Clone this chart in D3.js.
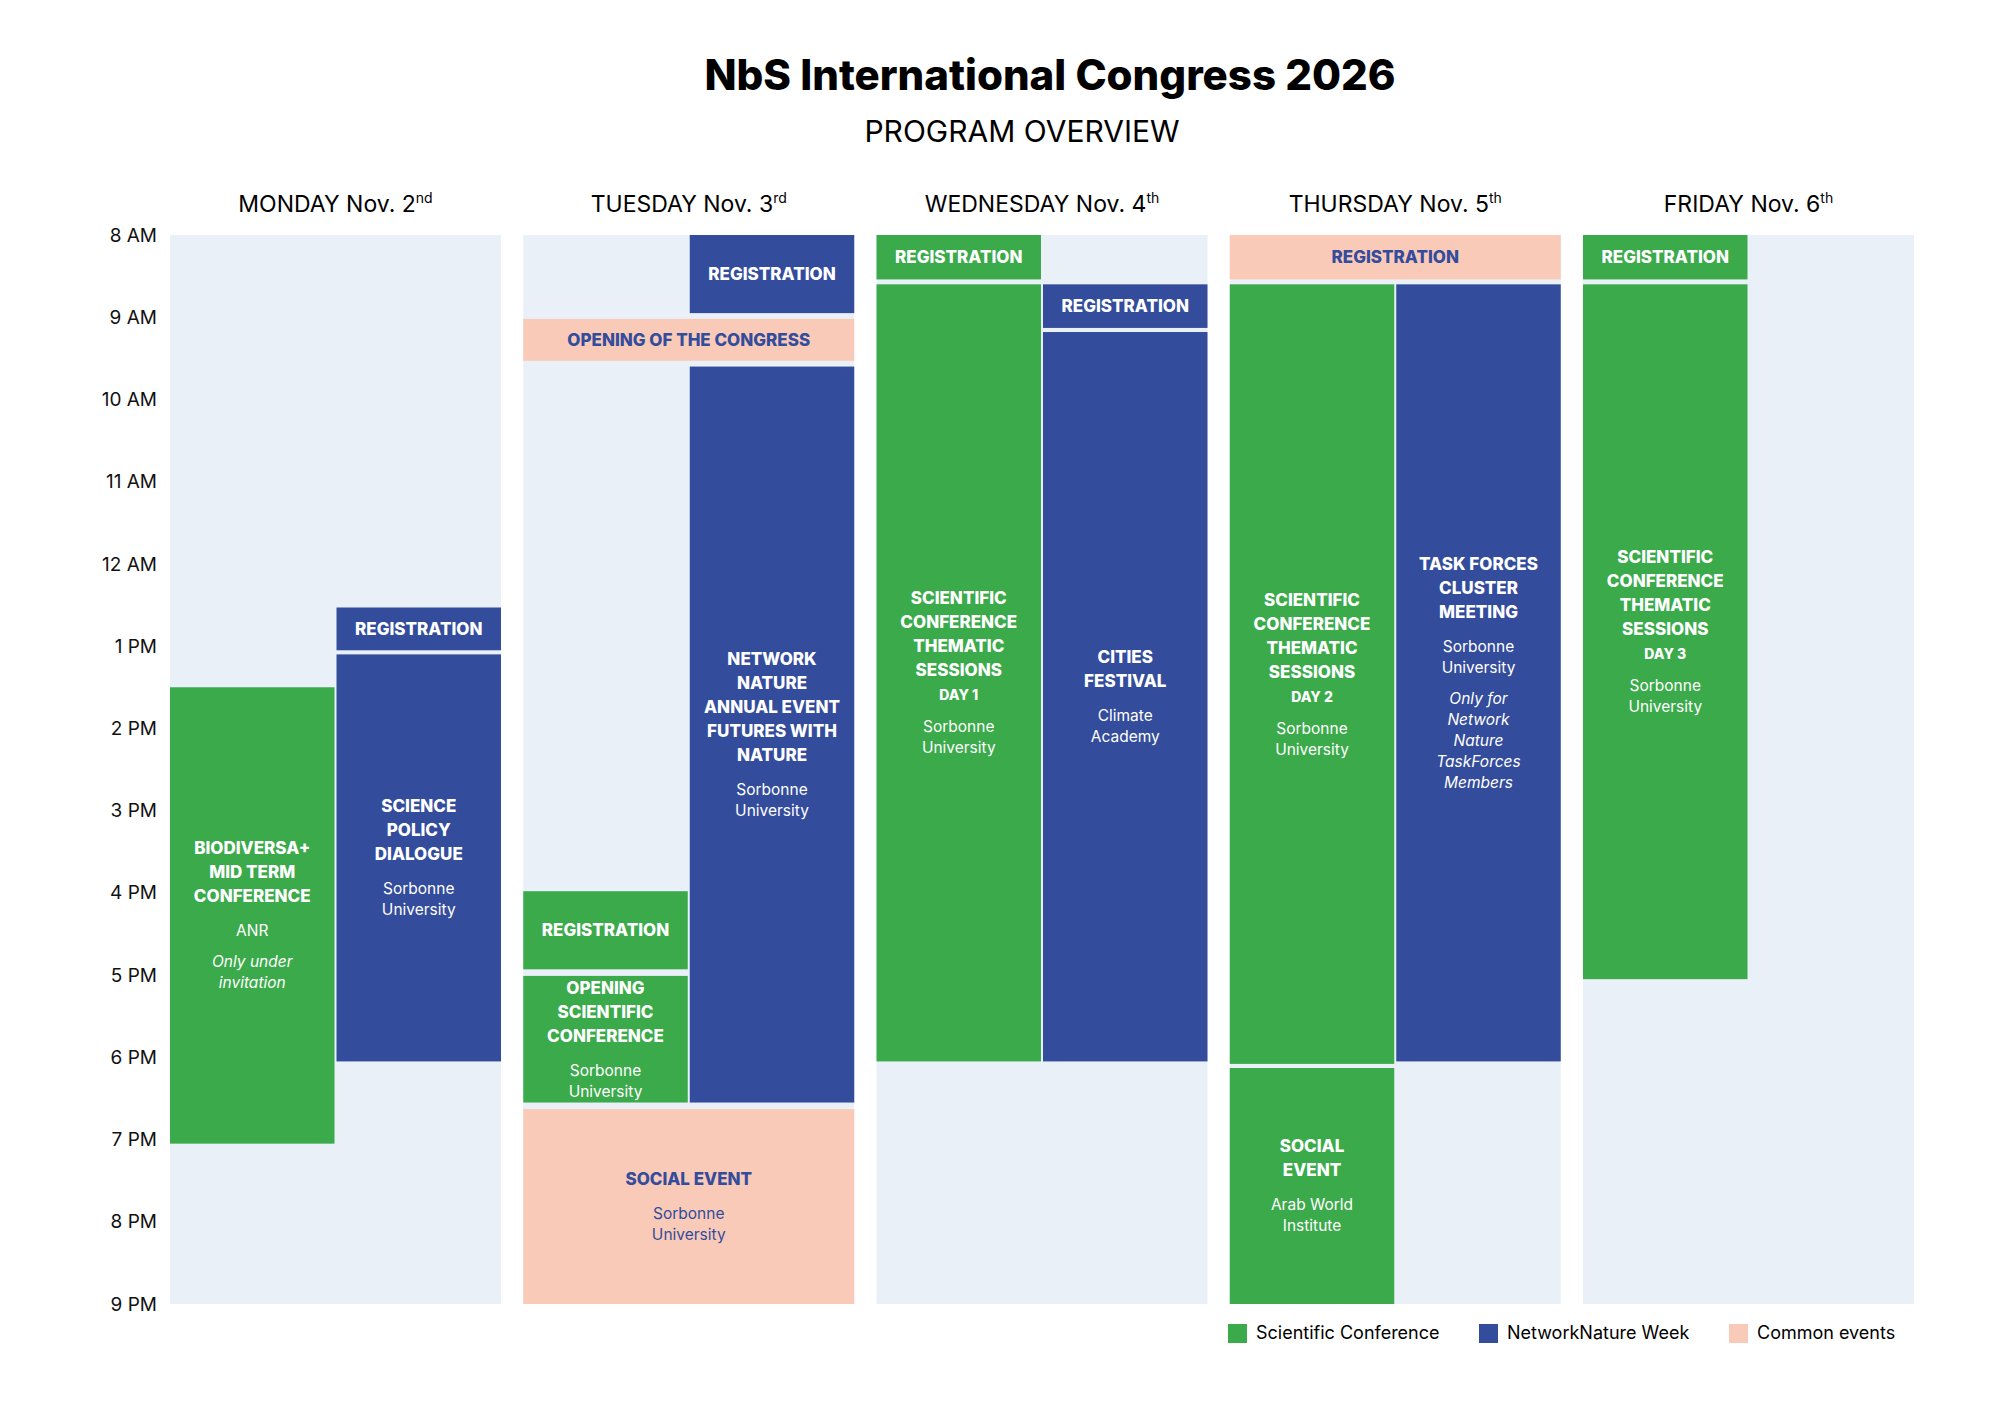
<!DOCTYPE html>
<html><head><meta charset="utf-8">
<script src="https://cdn.jsdelivr.net/npm/d3@7"></script>
<style>body{margin:0;background:#fff}svg{font-family:Inter,"Open Sans",sans-serif}</style>
</head><body><svg id="chart" width="2000" height="1414"></svg>
<script>
var days = ['MONDAY Nov. 2|nd', 'TUESDAY Nov. 3|rd', 'WEDNESDAY Nov. 4|th', 'THURSDAY Nov. 5|th', 'FRIDAY Nov. 6|th'];
var hourTicks = [8, 9, 10, 11, 12, 13, 14, 15, 16, 17, 18, 19, 20, 21];
var hourLabels = ['8 AM', '9 AM', '10 AM', '11 AM', '12 AM', '1 PM', '2 PM', '3 PM', '4 PM', '5 PM', '6 PM', '7 PM', '8 PM', '9 PM'];
var types = ['Scientific Conference', 'NetworkNature Week', 'Common events'];
var colors = {'Scientific Conference': '#3aaa4a', 'NetworkNature Week': '#334c9b', 'Common events': '#f9cab8'};
// b = bold title line, d = small bold, n = normal, i = italic
var events = [
  {day: 0, col: 'L', start: 13.5, end: 19.05, type: 'Scientific Conference', lines: ['b:BIODIVERSA+', 'b:MID TERM', 'b:CONFERENCE', 'n:ANR', 's:', 'i:Only under', 'i:invitation']},
  {day: 0, col: 'R', start: 12.53, end: 13.05, type: 'NetworkNature Week', lines: ['b:REGISTRATION']},
  {day: 0, col: 'R', start: 13.1, end: 18.05, type: 'NetworkNature Week', lines: ['b:SCIENCE', 'b:POLICY', 'b:DIALOGUE', 'n:Sorbonne', 'n:University']},
  {day: 1, col: 'R', start: 8, end: 8.95, type: 'NetworkNature Week', lines: ['b:REGISTRATION']},
  {day: 1, col: 'F', start: 9.02, end: 9.53, type: 'Common events', lines: ['b:OPENING OF THE CONGRESS']},
  {day: 1, col: 'R', start: 9.6, end: 18.55, type: 'NetworkNature Week', lines: ['b:NETWORK', 'b:NATURE', 'b:ANNUAL EVENT', 'b:FUTURES WITH', 'b:NATURE', 'n:Sorbonne', 'n:University']},
  {day: 1, col: 'L', start: 15.98, end: 16.93, type: 'Scientific Conference', lines: ['b:REGISTRATION']},
  {day: 1, col: 'L', start: 17.01, end: 18.55, type: 'Scientific Conference', lines: ['b:OPENING', 'b:SCIENTIFIC', 'b:CONFERENCE', 'n:Sorbonne', 'n:University']},
  {day: 1, col: 'F', start: 18.63, end: 21, type: 'Common events', lines: ['b:SOCIAL EVENT', 'n:Sorbonne', 'n:University']},
  {day: 2, col: 'L', start: 8, end: 8.54, type: 'Scientific Conference', lines: ['b:REGISTRATION']},
  {day: 2, col: 'L', start: 8.6, end: 18.05, type: 'Scientific Conference', lines: ['b:SCIENTIFIC', 'b:CONFERENCE', 'b:THEMATIC', 'b:SESSIONS', 'd:DAY 1', 'n:Sorbonne', 'n:University']},
  {day: 2, col: 'R', start: 8.6, end: 9.13, type: 'NetworkNature Week', lines: ['b:REGISTRATION']},
  {day: 2, col: 'R', start: 9.18, end: 18.05, type: 'NetworkNature Week', lines: ['b:CITIES', 'b:FESTIVAL', 'n:Climate', 'n:Academy']},
  {day: 3, col: 'F', start: 8, end: 8.54, type: 'Common events', lines: ['b:REGISTRATION']},
  {day: 3, col: 'L', start: 8.6, end: 18.08, type: 'Scientific Conference', lines: ['b:SCIENTIFIC', 'b:CONFERENCE', 'b:THEMATIC', 'b:SESSIONS', 'd:DAY 2', 'n:Sorbonne', 'n:University']},
  {day: 3, col: 'R', start: 8.6, end: 18.05, type: 'NetworkNature Week', lines: ['b:TASK FORCES', 'b:CLUSTER', 'b:MEETING', 'n:Sorbonne', 'n:University', 's:', 'i:Only for', 'i:Network', 'i:Nature', 'i:TaskForces', 'i:Members']},
  {day: 3, col: 'L', start: 18.13, end: 21, type: 'Scientific Conference', lines: ['b:SOCIAL', 'b:EVENT', 'n:Arab World', 'n:Institute']},
  {day: 4, col: 'L', start: 8, end: 8.54, type: 'Scientific Conference', lines: ['b:REGISTRATION']},
  {day: 4, col: 'L', start: 8.6, end: 17.05, type: 'Scientific Conference', lines: ['b:SCIENTIFIC', 'b:CONFERENCE', 'b:THEMATIC', 'b:SESSIONS', 'd:DAY 3', 'n:Sorbonne', 'n:University']}
];

var svg = d3.select('#chart');
var x = d3.scaleBand().domain(d3.range(days.length)).range([170, 1914]).paddingInner(0.063);
var y = d3.scaleLinear().domain([8, 21]).range([235, 1304]);
var half = x.bandwidth() * 0.5;

svg.append('text').attr('x', 1050).attr('y', 90).attr('text-anchor', 'middle')
  .attr('font-size', 42).attr('font-weight', 800).text('NbS International Congress 2026');
svg.append('text').attr('x', 1022).attr('y', 142).attr('text-anchor', 'middle')
  .attr('font-size', 30).text('PROGRAM OVERVIEW');

// day headers
var hd = svg.selectAll('.hd').data(days).join('text')
  .attr('x', (d, i) => x(i) + x.bandwidth() / 2).attr('y', 212)
  .attr('text-anchor', 'middle').attr('font-size', 23);
hd.append('tspan').text(d => d.split('|')[0]);
hd.append('tspan').attr('dy', -9).attr('font-size', 14).text(d => d.split('|')[1]);

svg.selectAll('.bg').data(days).join('rect')
  .attr('x', (d, i) => x(i)).attr('y', y(8)).attr('width', x.bandwidth()).attr('height', y(21) - y(8))
  .attr('fill', '#e9f0f8');

// hour axis
var yAxis = d3.axisLeft(y).tickValues(hourTicks).tickSize(0).tickPadding(0)
  .tickFormat((d, i) => hourLabels[i]);
var ax = svg.append('g').attr('transform', 'translate(157,0)').call(yAxis);
ax.select('.domain').remove();
ax.selectAll('text').attr('font-size', 19).attr('font-family', 'Inter,"Open Sans",sans-serif').attr('fill', '#111');

// events
var g = svg.selectAll('.ev').data(events).join('g');
function ex(d) { return x(d.day) + (d.col === 'R' ? half + 1 : 0); }
function ew(d) { return d.col === 'F' ? x.bandwidth() : half - 1; }
g.append('rect')
  .attr('x', ex).attr('y', d => y(d.start)).attr('width', ew)
  .attr('height', d => y(d.end) - y(d.start))
  .attr('fill', d => colors[d.type]);

var lh = {b: 24, d: 22, n: 21, i: 21, s: 10};
g.each(function (d) {
  var col = d.type === 'Common events' ? '#334c9b' : '#fff';
  var items = d.lines.map(s => ({k: s.split(':')[0], t: s.slice(2)}));
  // extra gap between title group and sub lines
  var ys = [], cy = 0, prev = null;
  items.forEach(function (it) {
    if (prev && prev !== 'b' && prev !== 'd' ? false : prev && (it.k === 'n' || it.k === 'i')) cy += 10;
    ys.push(cy); cy += lh[it.k]; prev = it.k;
  });
  var total = cy - lh[items[items.length - 1].k];
  var mid = (y(d.start) + y(d.end)) / 2 - total / 2;
  var cx = ex(d) + ew(d) / 2;
  d3.select(this).selectAll('text').data(items.filter(it => it.k !== 's')).join('text')
    .attr('x', cx).attr('y', (it) => mid + ys[items.indexOf(it)] + 6)
    .attr('text-anchor', 'middle').attr('fill', col)
    .attr('font-size', it => it.k === 'b' ? 17 : it.k === 'd' ? 14 : 15.5)
    .attr('font-weight', it => it.k === 'b' || it.k === 'd' ? 800 : 400)
    .attr('font-style', it => it.k === 'i' ? 'italic' : 'normal')
    .text(it => it.t);
});

// legend
var lx = [1228, 1479, 1729];
var lg = svg.selectAll('.lg').data(types).join('g').attr('transform', (d, i) => 'translate(' + lx[i] + ',1324)');
lg.append('rect').attr('width', 19).attr('height', 19).attr('fill', d => colors[d]);
lg.append('text').attr('x', 28).attr('y', 15).attr('font-size', 18).text(d => d);
</script></body></html>
